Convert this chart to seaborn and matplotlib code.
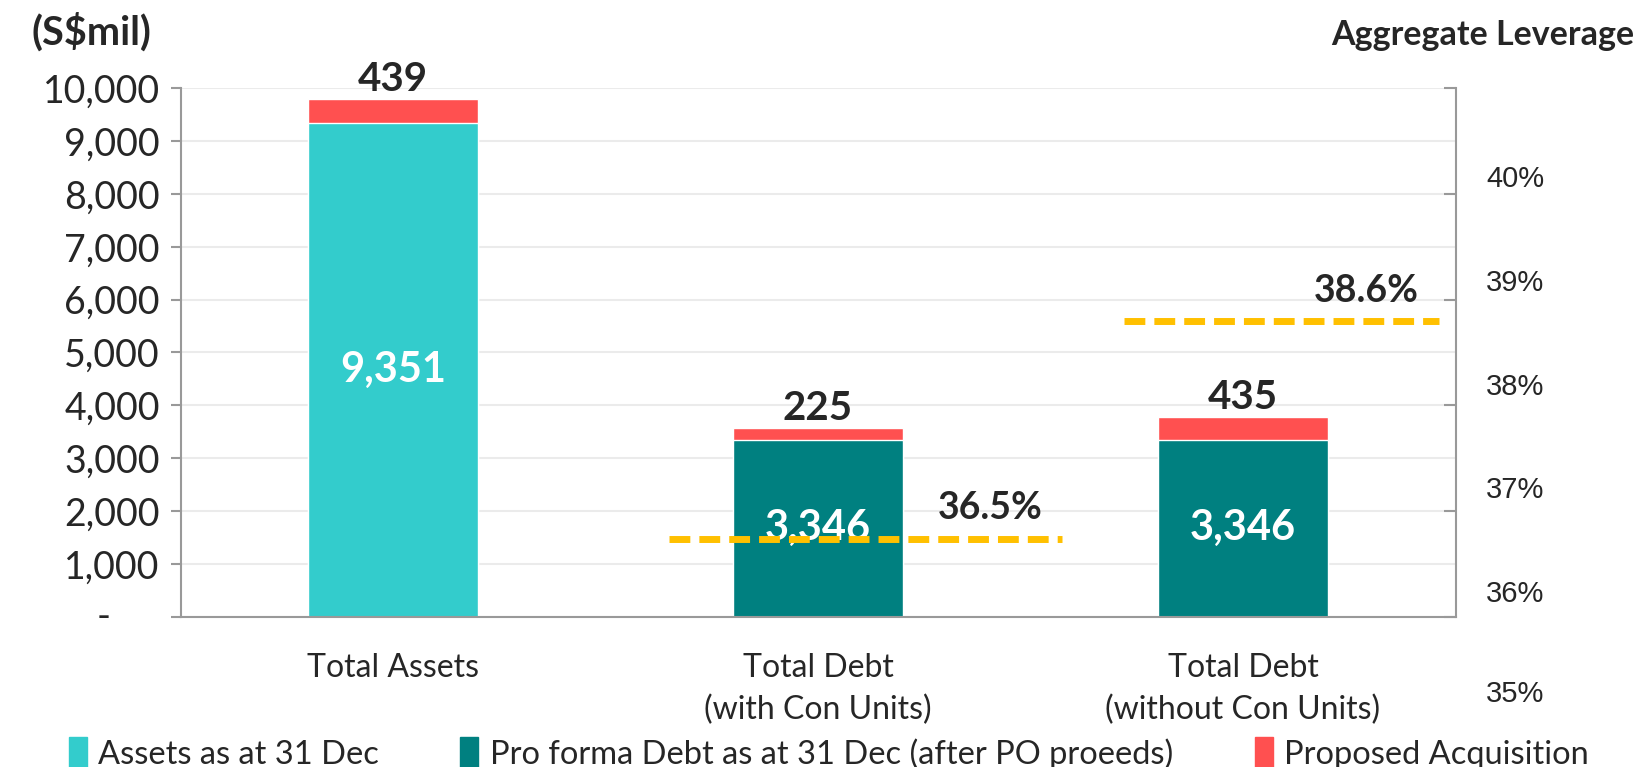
import matplotlib.pyplot as plt
from matplotlib.patches import Patch
import seaborn as sns
import pandas as pd

# data
categories = ['Total Assets', 'Total Debt\n(with Con Units)', 'Total Debt\n(without Con Units)']
base_values = [9351, 3346, 3346]
acquisition = [439, 225, 435]
base_colors = ['#33CCCC', '#008080', '#008080']
leverage_pos = [1, 2]
leverage = [36.5, 38.6]
legend_labels = ['Assets as at 31 Dec', 'Pro forma Debt as at 31 Dec (after PO proeeds)', 'Proposed Acquisition']

RED = '#FF5050'
YELLOW = '#FFC000'

sns.set_style('white')
plt.rcParams['font.family'] = ['Lato', 'DejaVu Sans']

df = pd.DataFrame({'cat': categories, 'base': base_values, 'acq': acquisition})
df['total'] = df['base'] + df['acq']

fig = plt.figure(figsize=(16.41, 7.67), dpi=100)
ax = fig.add_axes([0.110, 0.196, 0.777, 0.689])

# stacked bars: full total in red, base drawn over it
sns.barplot(data=df, x='cat', y='total', color=RED, width=0.4, ax=ax, saturation=1)
sns.barplot(data=df, x='cat', y='base', hue='cat', palette=base_colors, width=0.4,
            ax=ax, saturation=1, legend=False)

ax.set_ylim(0, 10000)
ax.set_xlim(-0.5, 2.5)
ax.set_xlabel('')
ax.set_ylabel('')
ax.set_yticks(range(0, 10001, 1000))
ax.set_yticklabels([''] + [f'{v:,}' for v in range(1000, 10001, 1000)], fontsize=27)
# the zero label sits further left, as in the original
ax.annotate('-', (0, 0), xycoords=('axes fraction', 'data'), xytext=(-50, 0),
            textcoords='offset points', ha='right', va='center', fontsize=27)
ax.yaxis.grid(True, color='#EBEBEB', lw=1.5)
ax.set_axisbelow(True)
ax.tick_params(axis='y', length=7, width=1.5, color='#999999', pad=8)
ax.tick_params(axis='x', which='major', length=0, pad=26, labelsize=23)
ax.set_xticks([-0.5, 0.5, 1.5, 2.5], minor=True)
ax.tick_params(axis='x', which='minor', length=12, width=1.5, color='#999999')
for lbl in ax.get_xticklabels():
    lbl.set_linespacing(1.5)
for s in ['left', 'bottom']:
    ax.spines[s].set_color('#999999')
    ax.spines[s].set_linewidth(1.5)
ax.spines['top'].set_visible(False)
ax.spines['right'].set_visible(False)

# value labels
for i, row in df.iterrows():
    ax.text(i, row['base'] / 2, f"{row['base']:,}", ha='center', va='center',
            color='white', fontsize=30, fontweight='bold')
    ax.annotate(f"{row['acq']}", (i, row['total']), xytext=(0, 14), textcoords='offset points',
                ha='center', va='center', fontsize=29, fontweight='bold')

# secondary axis: aggregate leverage
ax2 = ax.twinx()
lo, hi = 35.75, 40.85
ax2.set_ylim(lo, hi)
ax2.set_yticks([36, 37, 38, 39, 40])
ax2.set_yticklabels(['36%', '37%', '38%', '39%', '40%'], family=['Liberation Sans'], fontsize=21)
ax2.tick_params(axis='y', which='major', length=0, pad=22)
ax2.set_yticks([lo + v / 10000 * (hi - lo) for v in range(0, 10001, 2000)], minor=True)
ax2.tick_params(axis='y', which='minor', length=9, width=1.5, color='#999999', direction='in')
for s in ['left', 'top', 'bottom']:
    ax2.spines[s].set_visible(False)
ax2.spines['right'].set_color('#999999')
ax2.spines['right'].set_linewidth(1.5)
ax2.annotate('35%', (1.0, 35), xycoords=('axes fraction', 'data'), xytext=(22, 0),
             textcoords='offset points', ha='left', va='center', fontsize=21,
             family=['Liberation Sans'], annotation_clip=False)

spans = [(-0.35, 0.575), (-0.28, 0.46)]
for p, lev, (a, b) in zip(leverage_pos, leverage, spans):
    ax2.plot([p + a, p + b], [lev, lev], color=YELLOW, lw=5, ls=(0, (3, 1.3)))
    ax2.annotate(f'{lev}%', (p + b, lev), xytext=(-52, 22), textcoords='offset points',
                 ha='center', va='center', fontsize=27, fontweight='bold')

fig.text(0.019, 0.958, '(S$mil)', fontsize=28.5, fontweight='bold', ha='left', va='center')
fig.text(0.996, 0.955, 'Aggregate Leverage', fontsize=24.5, fontweight='bold', ha='right', va='center')

handles = [Patch(color=c) for c in ['#33CCCC', '#008080', RED]]
fig.legend(handles, legend_labels, loc='lower center', bbox_to_anchor=(0.505, -0.042), ncol=3,
           frameon=False, fontsize=23.5, handlelength=0.55, handleheight=1.1,
           handletextpad=0.35, columnspacing=2.5)

fig.savefig('out.png', dpi=100)
